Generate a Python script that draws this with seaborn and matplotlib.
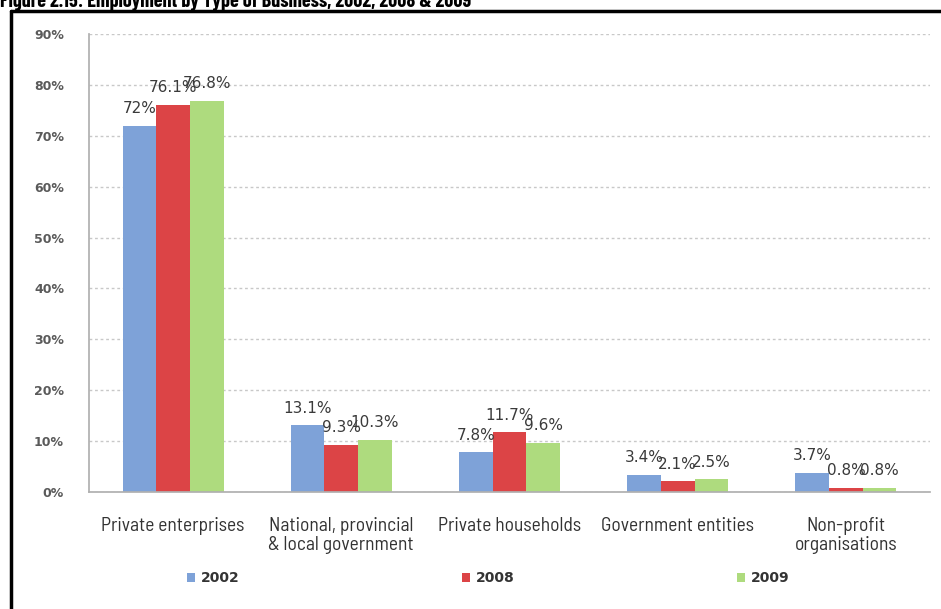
import matplotlib
matplotlib.use("Agg")
import matplotlib.pyplot as plt
from matplotlib.patches import Patch
from matplotlib.lines import Line2D
import pandas as pd
import seaborn as sns

categories = [
    "Private enterprises",
    "National, provincial\n& local government",
    "Private households",
    "Government entities",
    "Non-profit\norganisations",
]
years = ["2002", "2008", "2009"]
values_2002 = [72.0, 13.1, 7.8, 3.4, 3.7]
values_2008 = [76.1, 9.3, 11.7, 2.1, 0.8]
values_2009 = [76.8, 10.3, 9.6, 2.5, 0.8]
label_2002 = ["72%", "13.1%", "7.8%", "3.4%", "3.7%"]
label_2008 = ["76.1%", "9.3%", "11.7%", "2.1%", "0.8%"]
label_2009 = ["76.8%", "10.3%", "9.6%", "2.5%", "0.8%"]
y_ticks = [0, 10, 20, 30, 40, 50, 60, 70, 80, 90]
y_tick_labels = ["0%", "10%", "20%", "30%", "40%", "50%", "60%", "70%", "80%", "90%"]
colors = ["#7ea2d8", "#dc4446", "#aedb7e"]
title = "Figure 2.15: Employment by Type of Business, 2002, 2008 & 2009"

series = {"2002": values_2002, "2008": values_2008, "2009": values_2009}
labels = {"2002": label_2002, "2008": label_2008, "2009": label_2009}
df = pd.DataFrame(
    [(c, y, series[y][i]) for y in years for i, c in enumerate(categories)],
    columns=["category", "year", "value"],
)

sns.set_theme(style="white")
title_font = ["Barlow Condensed", "DejaVu Sans"]
cat_font = ["Barlow Semi Condensed", "DejaVu Sans"]

fig = plt.figure(figsize=(9.41, 6.09), dpi=100)
ax = fig.add_axes([89 / 941, 1 - 492 / 609, (930 - 89) / 941, (492 - 34) / 609])

sns.barplot(
    data=df, x="category", y="value", hue="year", hue_order=years,
    palette=colors, width=0.6, saturation=1, ax=ax, legend=False,
    linewidth=0, edgecolor="none",
)

# value labels above each bar
for container, yr in zip(ax.containers, years):
    for bar, txt in zip(container, labels[yr]):
        ax.annotate(
            txt, (bar.get_x() + bar.get_width() / 2, bar.get_height()),
            xytext=(0, 7), textcoords="offset points", ha="center", va="bottom",
            fontsize=11, color="#3a3a3a", family="DejaVu Sans",
        )

ax.set_ylim(0, 90)
ax.set_xlim(-0.5, len(categories) - 0.5)
ax.set_yticks(y_ticks)
ax.set_yticklabels(y_tick_labels, fontsize=9, color="#5a5a5a", fontweight="bold")
ax.set_xticks(range(len(categories)))
ax.set_xticklabels(categories, fontsize=14, color="#333333", family=cat_font,
                   linespacing=1.05)
ax.set_xticks([i - 0.5 for i in range(len(categories) + 1)], minor=True)
ax.tick_params(axis="x", which="major", length=0, pad=18)
ax.tick_params(axis="x", which="minor", length=5, color="#aaaaaa", direction="out")
ax.tick_params(axis="y", length=6, color="#cccccc", pad=12, direction="out")
ax.set_xlabel("")
ax.set_ylabel("")

ax.yaxis.grid(True, linestyle=(0, (2, 2)), color="#c8c8c8", linewidth=1)
ax.set_axisbelow(True)
for side in ["top", "right"]:
    ax.spines[side].set_visible(False)
ax.spines["left"].set_color("#b0b0b0")
ax.spines["bottom"].set_color("#b0b0b0")

handles = [Patch(facecolor=c, edgecolor="none") for c in colors]
fig.legend(
    handles, years, loc="center", bbox_to_anchor=(488 / 941, 1 - 578 / 609),
    ncol=3, frameon=False, handlelength=0.6, handleheight=0.6,
    handletextpad=0.4, columnspacing=16,
    prop={"weight": "bold", "size": 10, "family": "DejaVu Sans"},
    labelcolor="#333333",
)

# outer frame
fig.add_artist(Line2D([11 / 941, 11 / 941], [0, 1 - 11 / 609], transform=fig.transFigure,
                      color="black", linewidth=2.5))
fig.add_artist(Line2D([11 / 941, 1], [1 - 11 / 609, 1 - 11 / 609], transform=fig.transFigure,
                      color="black", linewidth=2.5))

fig.text(0.0, 1 - 7 / 609, title, ha="left", va="baseline", fontsize=14.5,
         fontweight="bold", family=title_font, color="black")

fig.savefig("out.png", dpi=100)
